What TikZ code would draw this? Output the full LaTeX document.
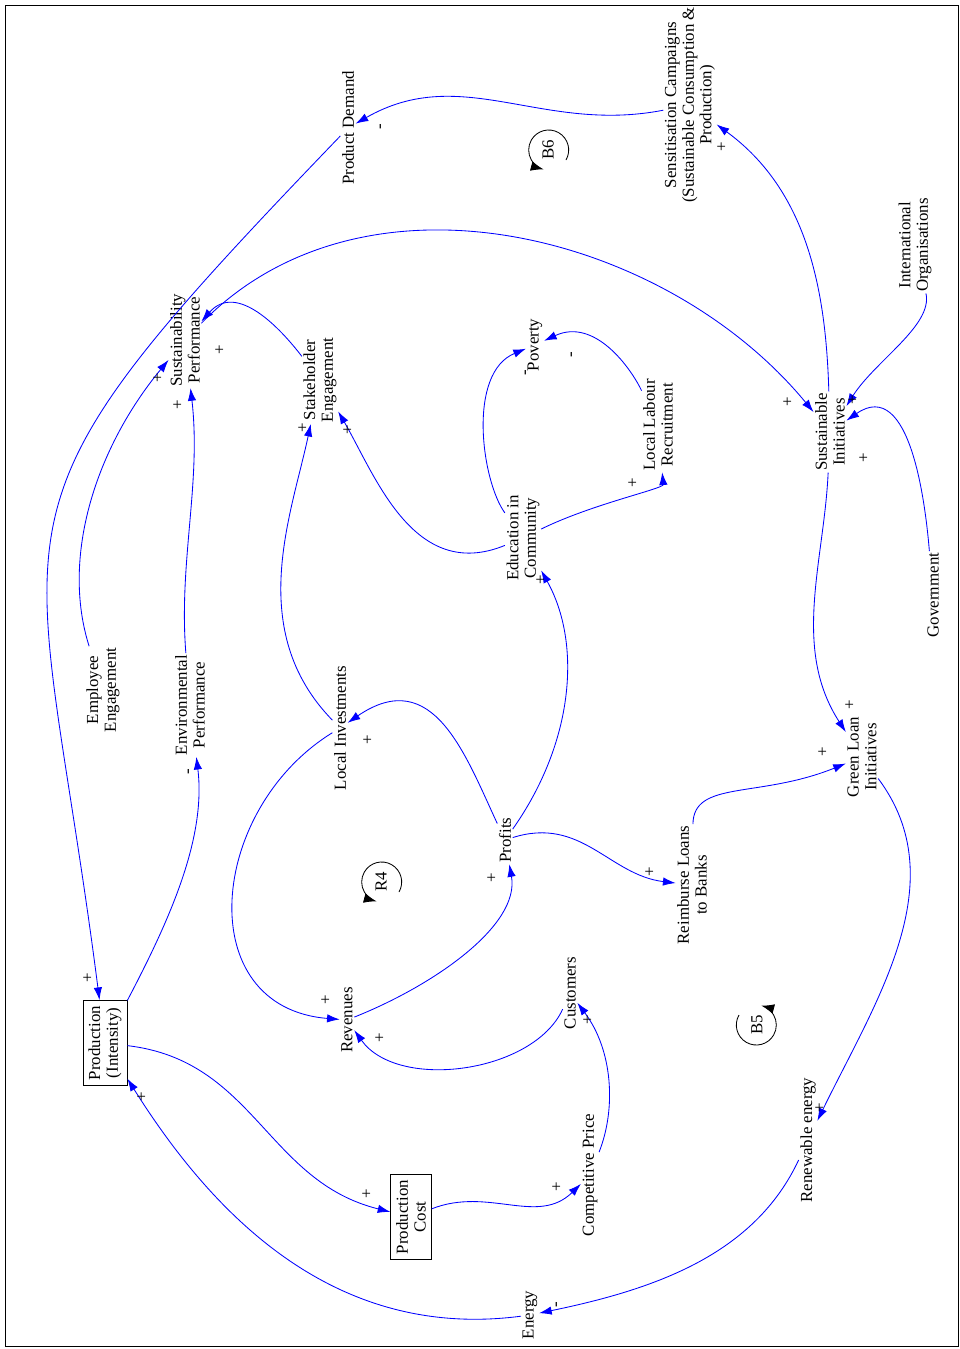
\documentclass[tikz,border=0pt]{standalone}
\usepackage{fontspec}
\setmainfont{Liberation Serif}
\usetikzlibrary{arrows.meta}

\tikzset{
  var/.style={rotate=90, align=center, inner sep=1pt, font=\fontsize{12}{12.5}\selectfont},
  box/.style={var, draw, inner sep=4pt},
  sign/.style={rotate=90, font=\fontsize{12}{12}\selectfont, inner sep=0pt},
  link/.style={draw=blue, line width=0.6pt, -{Latex[length=9pt,width=6pt]}, fill=none},
  loopmark/.style={line width=0.6pt, -{Latex[length=9pt,width=7pt]}},
}

\begin{document}
\begin{tikzpicture}[x=0.025cm, y=0.025cm]
\useasboundingbox (0,0) rectangle (960,-1349);
\draw (5,-5) -- (958,-5) -- (958,-1346) -- (5,-1346) -- cycle;

% variables
\node[var] (dem) at (348,-128) {Product Demand};
\node[var] (sens) at (690,-105) {Sensitisation Campaigns\\(Sustainable Consumption \&\\Production)};
\node[var] (perf) at (185,-340) {Sustainability\\Performance};
\node[var] (stake) at (320,-380) {Stakeholder\\Engagement};
\node[var] (pov) at (535,-345) {Poverty};
\node[var] (labour) at (658,-425) {Local Labour\\Recruitment};
\node[var] (init) at (830,-432) {Sustainable\\Initiatives};
\node[var] (intl) at (915,-245) {International\\Organisations};
\node[var] (gov) at (933,-595) {Government};
\node[var] (edu) at (523,-538) {Education in\\Community};
\node[var] (emp) at (103,-690) {Employee\\Engagement};
\node[var] (env) at (190,-705) {Environmental\\Performance};
\node[var] (inv) at (340,-728) {Local Investments};
\node[var] (loan) at (862,-757) {Green Loan\\Initiatives};
\node[var] (prof) at (505,-840) {Profits};
\node[var] (reimb) at (692,-885) {Reimburse Loans\\to Banks};
\node[box] (prod) at (105,-1043) {Production\\(Intensity)};
\node[var] (rev) at (347,-1020) {Revenues};
\node[var] (cust) at (570,-993) {Customers};
\node[var] (renew) at (808,-1140) {Renewable energy};
\node[box] (cost) at (411,-1217) {Production\\Cost};
\node[var] (price) at (590,-1175) {Competitive Price};
\node[var] (energy) at (530,-1315) {Energy};

% loop markers
\node[var] (b6) at (548,-150) {B6};
\draw[loopmark] (566,-160) arc (-30:255:20);
\node[var] (r4) at (381,-882) {R4};
\draw[loopmark] (399,-892) arc (-30:255:20);
\node[var] (b5) at (757,-1025) {B5};
\draw[loopmark] (739,-1015) arc (150:435:20);

% links
\draw[link] (sens) to[out=160,in=20] (dem);
\draw[link] (dem) to[out=225,in=95,looseness=1.5] (prod);
\draw[link] (init) to[out=85,in=-50] (sens);
\draw[link] (perf) to[out=40,in=125] (init);
\draw[link] (intl) to[out=-90,in=40] (init);
\draw[link] (gov) to[out=90,in=10] (init);
\draw[link] (init) to[out=-100,in=115] (loan);
\draw[link] (stake) to[out=110,in=10] (perf);
\draw[link] (emp) to[out=100,in=220] (perf);
\draw[link] (env) to[out=88,in=-90] (perf);
\draw[link] (prod) to[out=50,in=-90] (env);
\draw[link] (inv) to[out=130,in=-110] (stake);
\draw[link] (edu) to[out=180,in=-70] (stake);
\draw[link] (edu) to[out=110,in=180] (pov);
\draw[link] (labour) to[out=100,in=0] (pov);
\draw[link] (edu) to[out=-10,in=-100] (labour);
\draw[link] (prof) to[out=50,in=-70] (edu);
\draw[link] (prof) to[out=110,in=0] (inv);
\draw[link] (inv) to[out=205,in=165,looseness=1.3] (rev);
\draw[link] (rev) to[out=0,in=-85] (prof);
\draw[link] (prof) to[out=0,in=150] (reimb);
\draw[link] (reimb) to[out=80,in=180,looseness=1.3] (loan);
\draw[link] (loan) to[out=-60,in=60] (renew);
\draw[link] (renew) to[out=-120,in=0] (energy);
\draw[link] (energy) to[out=180,in=-65] (prod);
\draw[link] (prod) to[out=-25,in=150] (cost);
\draw[link] (cost) to[out=-10,in=210] (price);
\draw[link] (price) to[out=60,in=-60] (cust);
\draw[link] (cust) to[out=-120,in=-60] (rev);

% polarities
\node[sign] at (382,-127) {-};
\node[sign] at (88,-978) {+};
\node[sign] at (722,-147) {+};
\node[sign] at (788,-402) {+};
\node[sign] at (853,-400) {+};
\node[sign] at (864,-458) {+};
\node[sign] at (850,-705) {+};
\node[sign] at (220,-350) {+};
\node[sign] at (158,-378) {+};
\node[sign] at (178,-405) {+};
\node[sign] at (190,-772) {-};
\node[sign] at (303,-428) {+};
\node[sign] at (348,-430) {+};
\node[sign] at (527,-373) {-};
\node[sign] at (573,-355) {-};
\node[sign] at (633,-483) {+};
\node[sign] at (541,-580) {+};
\node[sign] at (368,-740) {+};
\node[sign] at (326,-1000) {+};
\node[sign] at (492,-878) {+};
\node[sign] at (650,-872) {+};
\node[sign] at (823,-752) {+};
\node[sign] at (820,-1108) {+};
\node[sign] at (558,-1305) {-};
\node[sign] at (142,-1097) {+};
\node[sign] at (367,-1194) {+};
\node[sign] at (557,-1187) {+};
\node[sign] at (588,-1020) {+};
\node[sign] at (380,-1038) {+};
\end{tikzpicture}
\end{document}
